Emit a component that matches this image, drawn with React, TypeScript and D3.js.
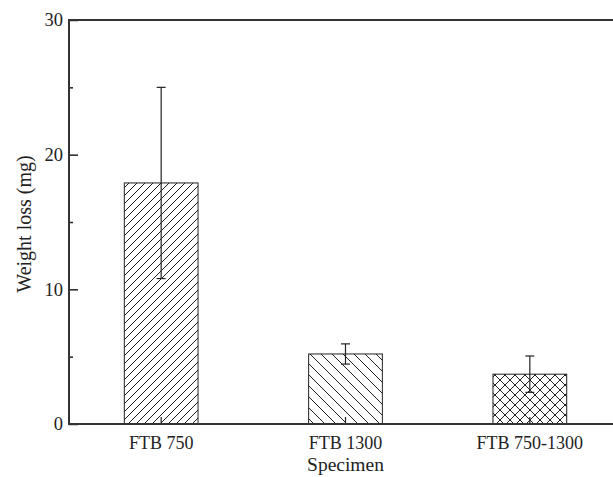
import { useEffect, useRef } from 'react';
import * as d3 from 'd3';

const specimens = ['FTB 750', 'FTB 1300', 'FTB 750-1300'];
const weightLoss = [17.9, 5.2, 3.7];
const errors = [7.1, 0.75, 1.35];
const hatches = ['fwd', 'back', 'cross'];
const majorTicks = [0, 10, 20, 30];
const minorTicks = [5, 15, 25];

const App = () => {
    const svgRef = useRef<SVGSVGElement>(null);

    useEffect(() => {
        const svg = d3.select(svgRef.current);
        svg.selectAll('*').remove();

        const width = 613;
        const height = 477;
        const margin = { top: 20, right: -9, bottom: 53, left: 69 };
        const font = '"Liberation Serif", "Times New Roman", serif';
        const ink = '#222';

        const x = d3
            .scaleBand()
            .domain(specimens)
            .range([margin.left, width - margin.right])
            .paddingInner(0.6)
            .paddingOuter(0.3);

        const y = d3
            .scaleLinear()
            .domain([0, 30])
            .range([height - margin.bottom, margin.top]);

        // hatch patterns
        const defs = svg.append('defs');
        const makePattern = (id, size, paths) => {
            const p = defs
                .append('pattern')
                .attr('id', id)
                .attr('patternUnits', 'userSpaceOnUse')
                .attr('width', size)
                .attr('height', size);
            p.append('rect').attr('width', size).attr('height', size).attr('fill', '#fff');
            paths.forEach((d) => {
                p.append('path').attr('d', d).attr('stroke', ink).attr('stroke-width', 1).attr('fill', 'none');
            });
        };
        const s1 = 8;
        makePattern('fwd', s1, [`M0,${s1} L${s1},0`, `M-1,1 L1,-1`, `M${s1 - 1},${s1 + 1} L${s1 + 1},${s1 - 1}`]);
        const s2 = 11;
        makePattern('back', s2, [`M0,0 L${s2},${s2}`, `M${s2 - 1},-1 L${s2 + 1},1`, `M-1,${s2 - 1} L1,${s2 + 1}`]);
        const s3 = 10;
        makePattern('cross', s3, [
            `M0,${s3} L${s3},0`,
            `M-1,1 L1,-1`,
            `M${s3 - 1},${s3 + 1} L${s3 + 1},${s3 - 1}`,
            `M0,0 L${s3},${s3}`,
            `M${s3 - 1},-1 L${s3 + 1},1`,
            `M-1,${s3 - 1} L1,${s3 + 1}`,
        ]);

        // bars
        svg.selectAll('.bar')
            .data(specimens)
            .enter()
            .append('rect')
            .attr('class', 'bar')
            .attr('x', (d) => x(d))
            .attr('y', (d, i) => y(weightLoss[i]))
            .attr('width', x.bandwidth())
            .attr('height', (d, i) => y(0) - y(weightLoss[i]))
            .attr('fill', (d, i) => `url(#${hatches[i]})`)
            .attr('stroke', ink)
            .attr('stroke-width', 1);

        // error bars
        const cap = 4.5;
        specimens.forEach((d, i) => {
            const cx = x(d) + x.bandwidth() / 2;
            const lo = y(weightLoss[i] - errors[i]);
            const hi = y(weightLoss[i] + errors[i]);
            const g = svg.append('g').attr('stroke', ink).attr('stroke-width', 1.2);
            g.append('line').attr('x1', cx).attr('x2', cx).attr('y1', lo).attr('y2', hi);
            g.append('line').attr('x1', cx - cap).attr('x2', cx + cap).attr('y1', hi).attr('y2', hi);
            g.append('line').attr('x1', cx - cap).attr('x2', cx + cap).attr('y1', lo).attr('y2', lo);
        });

        // y axis (ticks inside)
        svg.append('g')
            .attr('transform', `translate(${margin.left},0)`)
            .call(d3.axisRight(y).tickValues(majorTicks).tickSize(9).tickFormat(() => ''))
            .call((g) => g.select('.domain').remove())
            .call((g) => g.selectAll('line').attr('stroke', ink).attr('stroke-width', 1.5));
        svg.append('g')
            .attr('transform', `translate(${margin.left},0)`)
            .call(d3.axisRight(y).tickValues(minorTicks).tickSize(4).tickFormat(() => ''))
            .call((g) => g.select('.domain').remove())
            .call((g) => g.selectAll('line').attr('stroke', ink).attr('stroke-width', 1.5));

        svg.selectAll('.ylab')
            .data(majorTicks)
            .enter()
            .append('text')
            .attr('class', 'ylab')
            .attr('x', margin.left - 6)
            .attr('y', (d) => y(d))
            .attr('dy', '0.35em')
            .attr('text-anchor', 'end')
            .attr('font-family', font)
            .attr('font-size', 18.5)
            .attr('fill', ink)
            .text((d) => d);

        // x axis ticks inside at category centers
        svg.append('g')
            .attr('transform', `translate(0,${y(0)})`)
            .call(d3.axisTop(x).tickSize(7).tickFormat(() => ''))
            .call((g) => g.select('.domain').remove())
            .call((g) => g.selectAll('.tick line').attr('stroke', ink).attr('stroke-width', 1.2));

        svg.selectAll('.xlab')
            .data(specimens)
            .enter()
            .append('text')
            .attr('class', 'xlab')
            .attr('x', (d) => x(d) + x.bandwidth() / 2)
            .attr('y', 449)
            .attr('text-anchor', 'middle')
            .attr('font-family', font)
            .attr('font-size', 18)
            .attr('fill', ink)
            .text((d) => d);

        // frame
        svg.append('path')
            .attr('d', `M${width + 5},${margin.top} H${margin.left} V${y(0)} H${width + 5}`)
            .attr('fill', 'none')
            .attr('stroke', '#333')
            .attr('stroke-width', 2);

        // axis titles
        svg.append('text')
            .attr('x', (margin.left + width - margin.right) / 2)
            .attr('y', 471)
            .attr('text-anchor', 'middle')
            .attr('font-family', font)
            .attr('font-size', 19.5)
            .attr('fill', ink)
            .text('Specimen');

        svg.append('text')
            .attr('transform', `translate(31,${(margin.top + y(0)) / 2 + 2}) rotate(-90)`)
            .attr('text-anchor', 'middle')
            .attr('font-family', font)
            .attr('font-size', 20)
            .attr('fill', ink)
            .text('Weight loss (mg)');
    }, []);

    return (
        <svg
            ref={svgRef}
            width={613}
            height={477}
            style={{ position: 'absolute', left: 0, top: 0, background: '#fff' }}
        ></svg>
    );
};

export default App;
